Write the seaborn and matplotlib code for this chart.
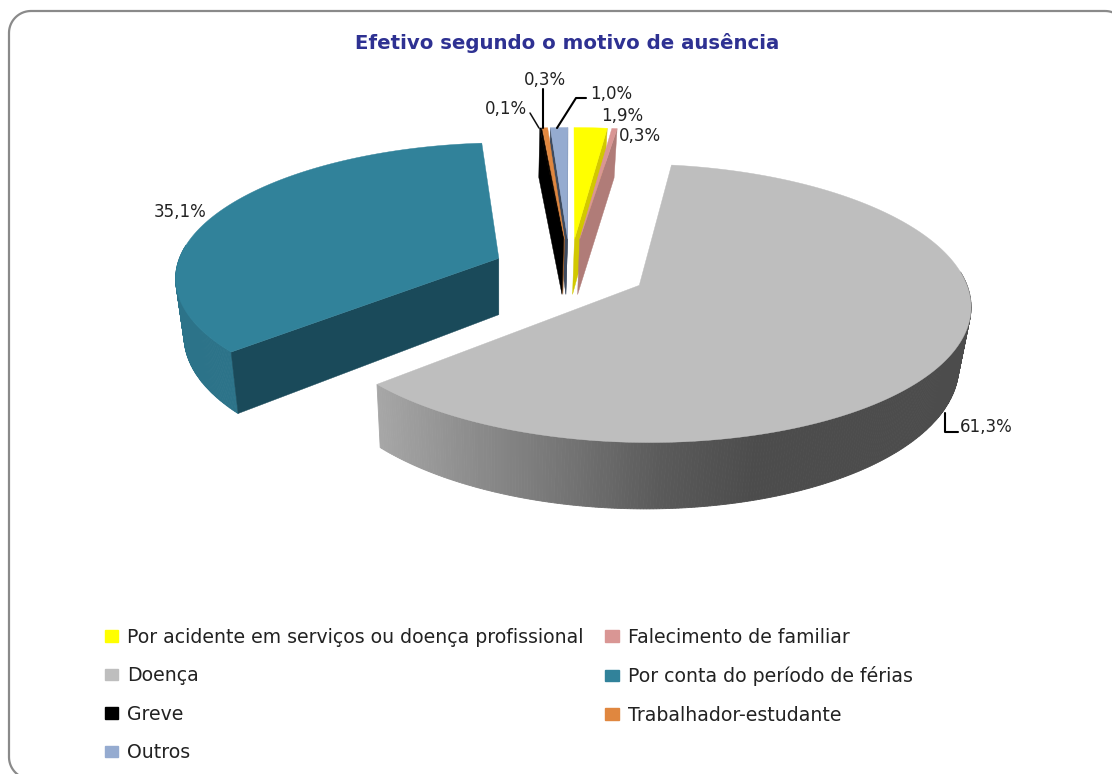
import numpy as np
import matplotlib
matplotlib.use('Agg')
import matplotlib.pyplot as plt
from matplotlib.patches import Patch
from matplotlib.colors import LinearSegmentedColormap
import seaborn as sns

title = 'Efetivo segundo o motivo de ausência'
categories = ['Por acidente em serviços ou doença profissional', 'Falecimento de familiar',
              'Doença', 'Por conta do período de férias', 'Greve', 'Trabalhador-estudante', 'Outros']
values = [1.9, 0.3, 61.3, 35.1, 0.1, 0.3, 1.0]
top_colors = ['#ffff00', '#d99694', '#bebebe', '#31829a', '#000000', '#e0873f', '#95abd0']
cut_colors = ['#d2c800', '#b07c78', '#8c8c8c', '#1a4a5a', '#000000', '#a8642c', '#3d4a5e']
wall_colors = ['#d2c800', '#b07c78', '#8c8c8c', '#2c7389', '#000000', '#a8642c', '#3d4a5e']
label_texts = ['1,9%', '0,3%', '61,3%', '35,1%', '0,1%', '0,3%', '1,0%']
label_x = [622, 640, 986, 180, 506, 545, 611]
label_y = [116, 136, 427, 212, 109, 80, 94]

# pie geometry, in pixels of the picture
cx, cy = 570, 270
rx, ry = 323, 133
persp = 0.127
explode = 0.24
depth = 57
vanish_x, vanish_f = 500, 0.974

sns.set_theme(style='white')
plt.rcParams['font.family'] = ['DejaVu Sans']

fig, ax = plt.subplots(figsize=(11.12, 7.74), dpi=100)
ax.set_position([0, 0, 1, 1])
ax.set_xlim(0, 1112)
ax.set_ylim(774, 0)
ax.axis('off')

grey_wall = LinearSegmentedColormap.from_list(
    'grey_wall', ['#a6a6a6', '#8c8c8c', '#747474', '#5a5a5a', '#4c4c4c'])


def project(u, v):
    s = 1 / (1 + persp * v)
    return cx + rx * u * s, cy - ry * v * s, depth * s


def lower(x):
    return vanish_x + (x - vanish_x) * vanish_f


shares = np.array(values) / sum(values) * 360
ends = np.cumsum(shares)
starts = ends - shares

# small slices at the back first, the grey one last
for i in [6, 5, 4, 0, 1, 3, 2]:
    t0, t1 = np.radians(starts[i]), np.radians(ends[i])
    mid = (t0 + t1) / 2
    ou, ov = explode * np.sin(mid), explode * np.cos(mid)
    th = np.linspace(t0, t1, max(3, int(np.degrees(t1 - t0)) * 2))
    x, y, d = project(ou + np.sin(th), ov + np.cos(th))
    ax0, ay0, ad = project(ou, ov)

    # outer wall, in strips so the grey one can carry its gradient
    for j in range(len(th) - 1):
        if np.cos(th[j]) > 0.1:
            continue
        col = wall_colors[i]
        if i == 2:
            col = grey_wall(np.clip((x[j] - 379) / 381, 0, 1))
        ax.fill([x[j], x[j + 1], lower(x[j + 1]), lower(x[j])],
                [y[j], y[j + 1], y[j + 1] + d[j + 1], y[j] + d[j]],
                color=col, lw=0.6, zorder=2)

    # cut faces, only those turned towards the viewer
    for k, facing in [(0, np.sin(t0) < 0), (-1, np.sin(t1) > 0)]:
        if facing:
            ax.fill([ax0, x[k], lower(x[k]), lower(ax0)], [ay0, y[k], y[k] + d[k], ay0 + ad],
                    color=cut_colors[i], lw=0.3, zorder=2)

    ax.fill(np.r_[ax0, x], np.r_[ay0, y], color=top_colors[i], lw=0.3, zorder=2)

# leader lines
ax.plot([945, 945, 958], [413, 432, 432], color='#000000', lw=1.5, zorder=3)
ax.plot([530, 539], [113, 128], color='#111111', lw=1.1, zorder=3)
ax.plot([543, 543], [89, 128], color='#000000', lw=1.5, zorder=3)
ax.plot([586, 576, 557], [98, 98, 128], color='#000000', lw=1.5, zorder=3)

for tx, ty, s in zip(label_x, label_y, label_texts):
    ax.text(tx, ty, s, ha='center', va='center', fontsize=12, color='#222222', zorder=4)

ax.text(567, 43, title, ha='center', va='center', fontsize=14.2, fontweight='bold', color='#2e3192')

# rounded frame, runs off the right and bottom of the picture
left, top, right, bottom, rad = 9, 11, 1127, 779, 22
arc = np.linspace(0, np.pi / 2, 20)
frame_x = np.r_[right - rad + rad * np.sin(arc), right - rad + rad * np.cos(arc),
                left + rad - rad * np.sin(arc), left + rad - rad * np.cos(arc)]
frame_y = np.r_[top + rad - rad * np.cos(arc), bottom - rad + rad * np.sin(arc),
                bottom - rad + rad * np.cos(arc), top + rad - rad * np.sin(arc)]
ax.fill(frame_x, frame_y, fc='none', ec='#8a8a8a', lw=1.6, zorder=1)

# legend fills by column, so give the rows column by column
order = [0, 2, 4, 6, 1, 3, 5]
handles = [Patch(color=top_colors[i], label=categories[i]) for i in order]
ax.legend(handles=handles, ncols=2, loc='upper left', bbox_to_anchor=(0.0944, 0.189),
          frameon=False, fontsize=13.6, handlelength=0.69, handleheight=0.58, handletextpad=0.48,
          labelspacing=1.03, columnspacing=1.16, borderpad=0, borderaxespad=0, labelcolor='#222222')

fig.savefig('out.png', dpi=100)
